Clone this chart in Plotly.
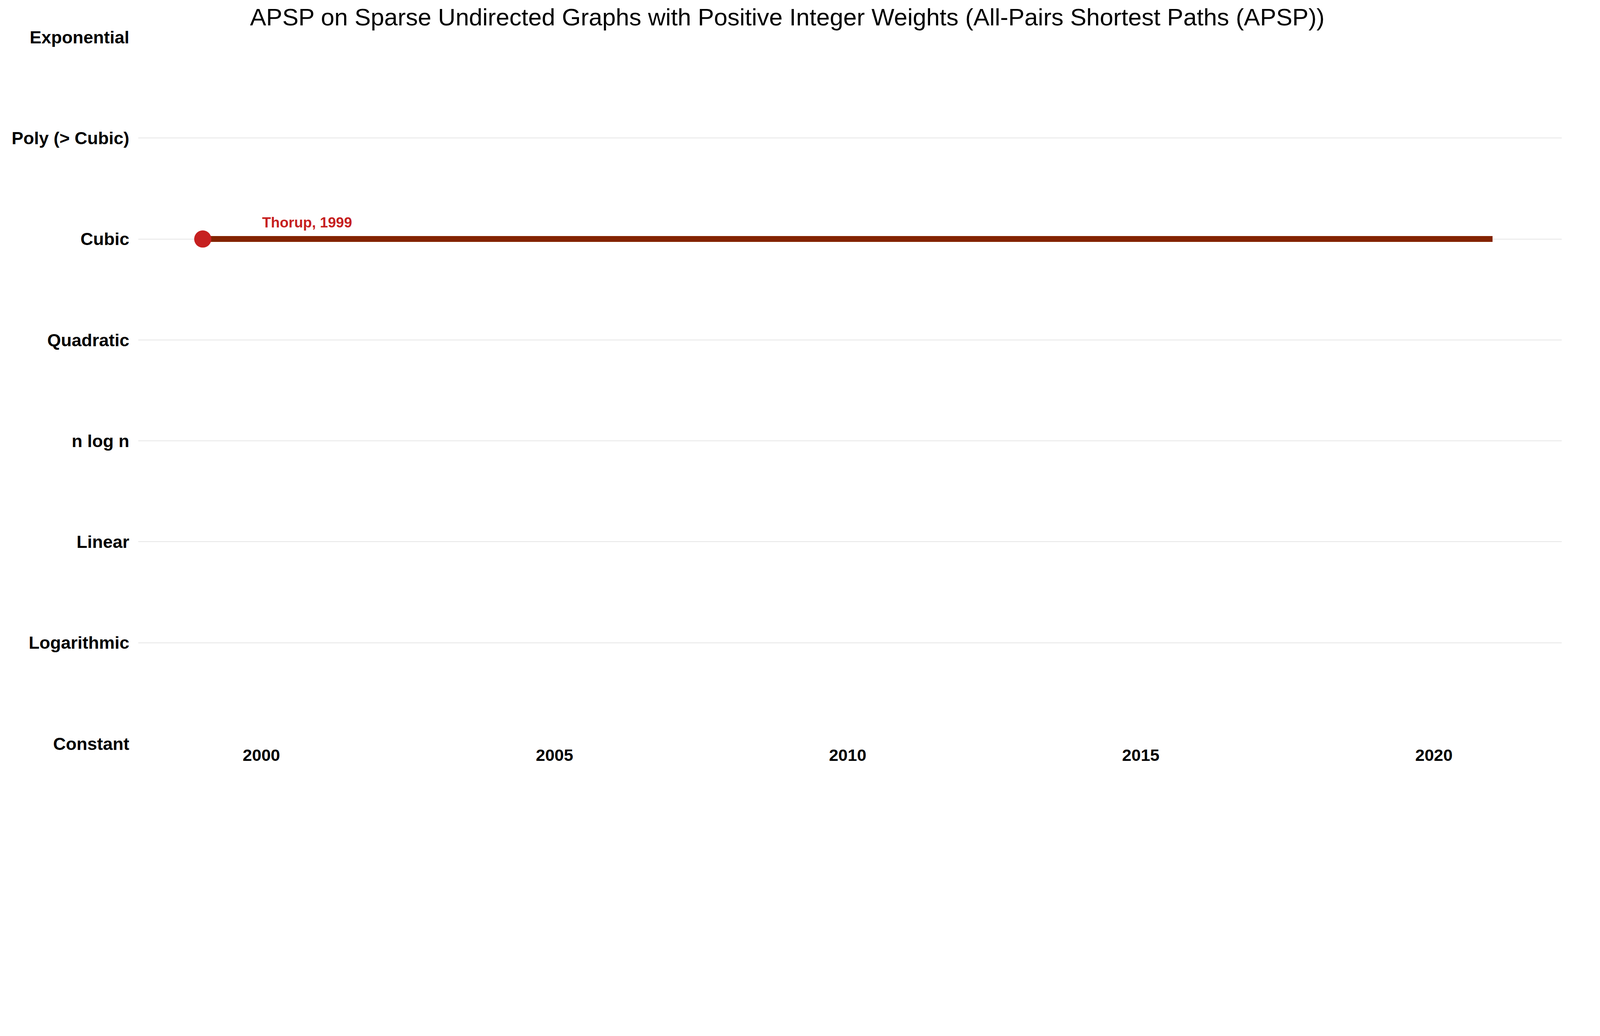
import plotly.graph_objects as go

categories = ["Constant", "Logarithmic", "Linear", "n log n", "Quadratic",
              "Cubic", "Poly (> Cubic)", "Exponential"]
years = [1999, 2021]
levels = ["Cubic", "Cubic"]
point_year = [1999]
point_level = ["Cubic"]
point_label = ["Thorup, 1999"]
x_ticks = [2000, 2005, 2010, 2015, 2020]

FONT = "Liberation Sans, Arial, sans-serif"
idx = {c: i for i, c in enumerate(categories)}

fig = go.Figure()
fig.add_trace(go.Scatter(
    x=years, y=[idx[l] for l in levels], mode="lines",
    line=dict(color="#832300", width=15), hoverinfo="skip", showlegend=False))
fig.add_trace(go.Scatter(
    x=point_year, y=[idx[l] for l in point_level], mode="markers",
    marker=dict(color="#c62020", size=44), showlegend=False))
for x, l, t in zip(point_year, point_level, point_label):
    fig.add_annotation(x=x, y=idx[l], text="<b>%s</b>" % t, showarrow=False,
                       xanchor="left", yanchor="bottom", xshift=150, yshift=20,
                       font=dict(color="#c62020", size=37, family=FONT))

fig.update_layout(
    width=4015, height=1988,
    paper_bgcolor="white", plot_bgcolor="white",
    margin=dict(l=346, r=25, t=87, b=93),
    title=dict(text="APSP on Sparse Undirected Graphs with Positive Integer Weights (All-Pairs Shortest Paths (APSP))",
               x=0.5, xanchor="center", y=0.993, yanchor="top",
               font=dict(size=62, family=FONT, color="black")),
    font=dict(family=FONT, color="black"),
)
fig.update_xaxes(range=[1997.9, 2022.18], tickvals=x_ticks, showgrid=False,
                 zeroline=False, showline=False,
                 tickfont=dict(size=43, family=FONT, color="black", weight="bold"))
fig.update_yaxes(range=[0, len(categories) - 1], tickvals=list(range(len(categories))),
                 ticktext=categories,
                 showgrid=True, gridcolor="#e6e6e6", gridwidth=2, zeroline=False,
                 tickfont=dict(size=45, family=FONT, color="black", weight="bold"),
                 ticklabelstandoff=22)

fig.write_html("out.html")
